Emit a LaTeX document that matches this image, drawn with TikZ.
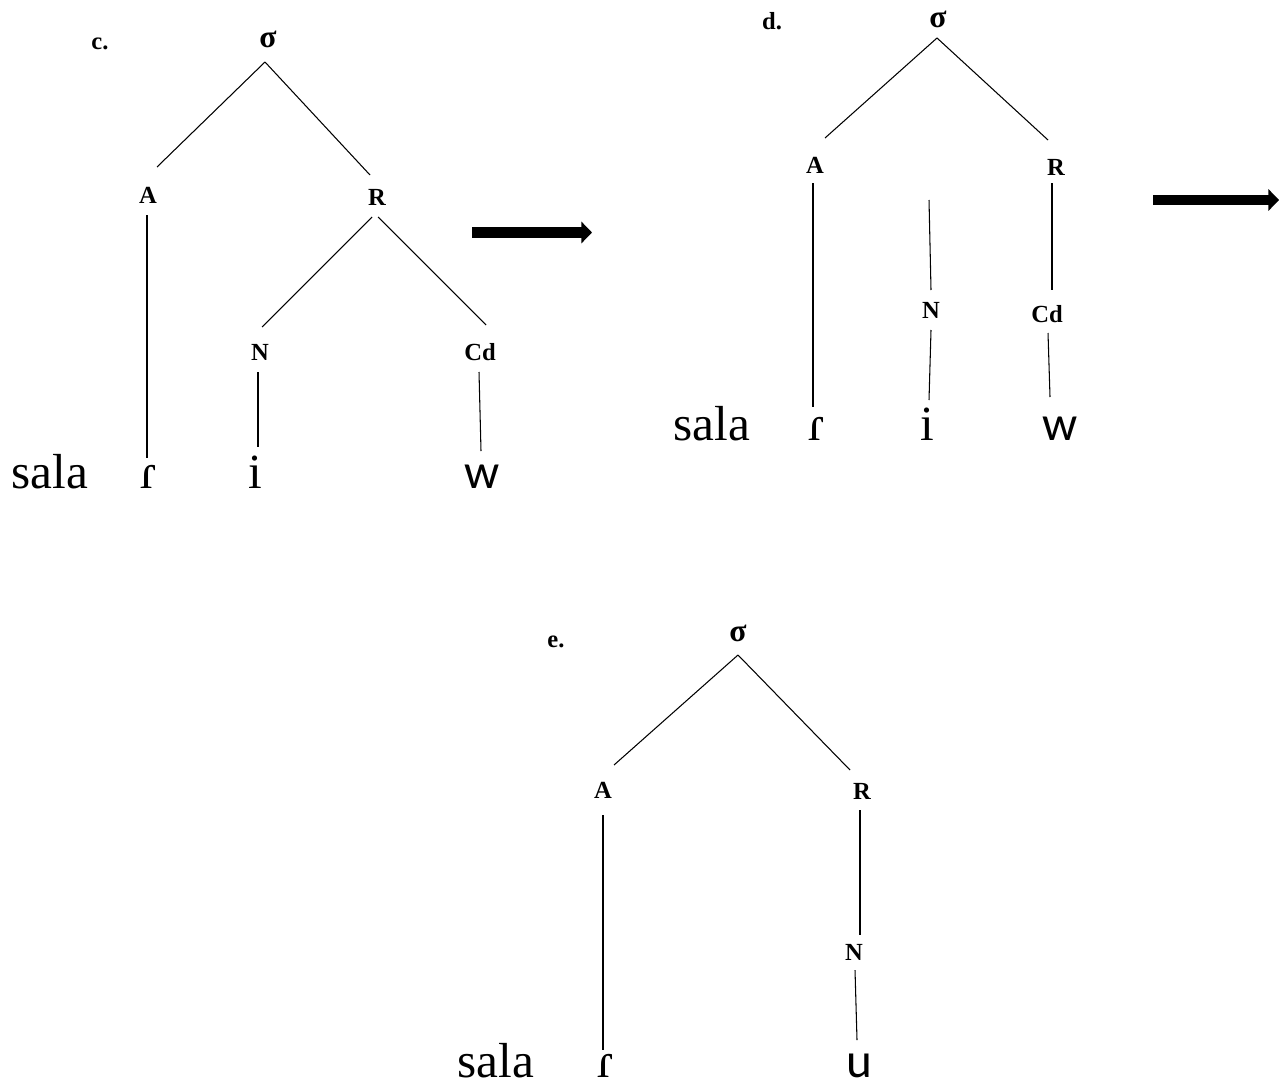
\documentclass[tikz,border=0pt]{standalone}
\usepackage{fontspec}
\setmainfont{Liberation Serif}
\newfontfamily\segsans{Carlito}
\usetikzlibrary{arrows.meta}

\begin{document}
\begin{tikzpicture}[x=0.02cm, y=-0.02cm,
  lab/.style={font=\fontsize{14}{14}\selectfont\bfseries, anchor=base, inner sep=0pt},
  sig/.style={font=\fontsize{18}{18}\selectfont\bfseries, anchor=base, inner sep=0pt},
  seg/.style={font=\fontsize{28}{28}\selectfont, anchor=base, inner sep=0pt},
  sseg/.style={font=\segsans\fontsize{28}{28}\selectfont, anchor=base, inner sep=0pt},
  branch/.style={line width=0.6pt},
  bigarrow/.style={line width=6.2pt, -{Triangle[length=6pt,width=12pt]}}
]
\useasboundingbox (0,0) rectangle (1283,1088);

\node[lab] (clab) at (100,50) {c.};
\node[sig] (csig) at (268,48) {σ};
\node[lab] (cA) at (148,203) {A};
\node[lab] (cR) at (377,205) {R};
\node[lab] (cN) at (260,360) {N};
\node[lab] (cCd) at (480,360) {Cd};
\node[seg] (csala) at (50,488) {sala};
\node[seg] (cr) at (149,488) {ɾ};
\node[seg] (ci) at (255,488) {i};
\node[sseg] (cw) at (482,488) {w};
\draw[branch] ([shift={(-3,14)}]csig.base) -- ([shift={(9,-36)}]cA.base);
\draw[branch] ([shift={(-3,14)}]csig.base) -- ([shift={(-7,-30)}]cR.base);
\draw[branch] ([shift={(-5,12)}]cR.base) -- ([shift={(2,-33)}]cN.base);
\draw[branch] ([shift={(1,12)}]cR.base) -- ([shift={(6,-35)}]cCd.base);
\draw[branch] ([shift={(-1,12)}]cA.base) -- ([shift={(-2,-30)}]cr.base);
\draw[branch] ([shift={(-2,12)}]cN.base) -- ([shift={(3,-41)}]ci.base);
\draw[branch] ([shift={(-1,12)}]cCd.base) -- ([shift={(-1,-37)}]cw.base);

\coordinate (arrcs) at (472,232.5);
\coordinate (arrce) at (592,232.5);
\draw[bigarrow] (arrcs) -- (arrce);

\node[lab] (dlab) at (772,30) {d.};
\node[sig] (dsig) at (938,28) {σ};
\node[lab] (dA) at (815,173) {A};
\node[lab] (dR) at (1056,175) {R};
\node[lab] (dN) at (931,318) {N};
\node[lab] (dCd) at (1047,322) {Cd};
\coordinate (dtop) at (929,200);
\node[seg] (dsala) at (712,440) {sala};
\node[seg] (dr) at (817,440) {ɾ};
\node[seg] (di) at (927,440) {i};
\node[sseg] (dw) at (1060,440) {w};
\draw[branch] ([shift={(-1,10)}]dsig.base) -- ([shift={(10,-35)}]dA.base);
\draw[branch] ([shift={(-1,10)}]dsig.base) -- ([shift={(-8,-35)}]dR.base);
\draw[branch] ([shift={(-2,10)}]dA.base) -- ([shift={(-4,-33)}]dr.base);
\draw[branch] (dtop) -- ([shift={(0,-28)}]dN.base);
\draw[branch] ([shift={(0,12)}]dN.base) -- ([shift={(2,-40)}]di.base);
\draw[branch] ([shift={(-4,8)}]dR.base) -- ([shift={(5,-32)}]dCd.base);
\draw[branch] ([shift={(1,11)}]dCd.base) -- ([shift={(-10,-43)}]dw.base);

\coordinate (arrds) at (1153,200);
\coordinate (arrde) at (1279,200);
\draw[bigarrow] (arrds) -- (arrde);

\node[lab] (elab) at (556,647) {e.};
\node[sig] (esig) at (738,641) {σ};
\node[lab] (eA) at (603,798) {A};
\node[lab] (eR) at (862,799) {R};
\node[lab] (eN) at (854,960) {N};
\node[seg] (esala) at (496,1077) {sala};
\node[seg] (er) at (606,1077) {ɾ};
\node[sseg] (eu) at (859,1077) {u};
\draw[branch] ([shift={(0,14)}]esig.base) -- ([shift={(11,-33)}]eA.base);
\draw[branch] ([shift={(0,14)}]esig.base) -- ([shift={(-12,-29)}]eR.base);
\draw[branch] ([shift={(0,17)}]eA.base) -- ([shift={(-3,-27)}]er.base);
\draw[branch] ([shift={(-2,11)}]eR.base) -- ([shift={(6,-25)}]eN.base);
\draw[branch] ([shift={(1,10)}]eN.base) -- ([shift={(-2,-37)}]eu.base);
\end{tikzpicture}
\end{document}
